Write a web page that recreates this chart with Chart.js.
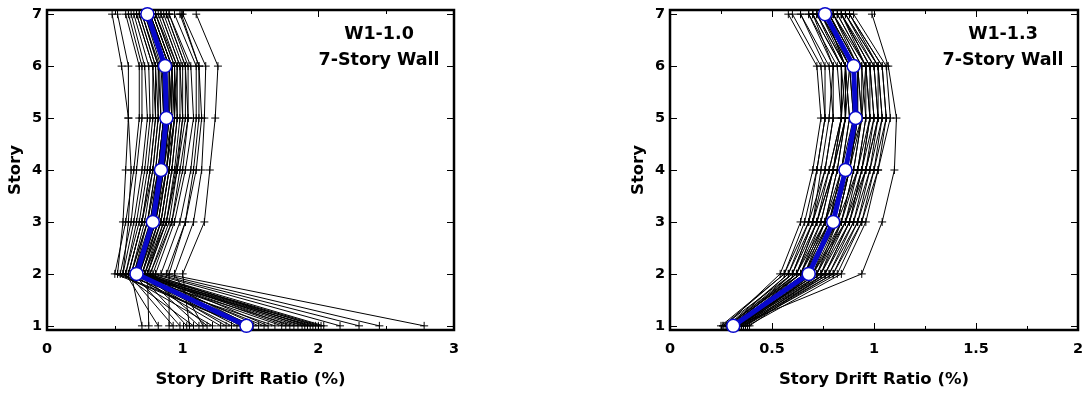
<!DOCTYPE html>
<html>
<head>
<meta charset="utf-8">
<script src="https://cdn.jsdelivr.net/npm/chart.js@4.4.1/dist/chart.umd.min.js"></script>
<style>
    html, body { margin: 0; padding: 0; background: #fff; }
    body { width: 1086px; height: 396px; position: relative; overflow: hidden; }
    .panel { position: absolute; top: 0; height: 396px; }
    #panelA { left: 0; width: 462px; }
    #panelB { left: 620px; width: 466px; }
</style>
</head>
<body>
<div class="panel" id="panelA"><canvas id="chartA"></canvas></div>
<div class="panel" id="panelB"><canvas id="chartB"></canvas></div>
<script>
// Story levels and axis ticks
const stories = [1, 2, 3, 4, 5, 6, 7];
const storyTicks = [1, 2, 3, 4, 5, 6, 7];
const w10Ticks = [0, 1, 2, 3];
const w10Minor = [0.5, 1.5, 2.5];
const w13Ticks = [0, 0.5, 1, 1.5, 2];
const w13Minor = [0.25, 0.75, 1.25, 1.75];

// Median story drift ratio (%), story 1..7
const w10Median = [1.47, 0.66, 0.78, 0.84, 0.88, 0.87, 0.74];
const w13Median = [0.31, 0.68, 0.80, 0.86, 0.91, 0.90, 0.76];

// Drift ratio per ground motion record, story 1..7 (W1-1.0)
const w10Records = [
    [0.70, 0.62, 0.74, 0.80, 0.84, 0.83, 0.70],
    [0.82, 0.58, 0.66, 0.72, 0.76, 0.75, 0.64],
    [0.93, 0.60, 0.70, 0.76, 0.80, 0.80, 0.68],
    [0.98, 0.64, 0.78, 0.86, 0.90, 0.90, 0.76],
    [1.03, 0.68, 0.80, 0.86, 0.92, 0.92, 0.78],
    [1.08, 0.56, 0.64, 0.70, 0.74, 0.72, 0.62],
    [1.12, 0.70, 0.84, 0.90, 0.94, 0.96, 0.80],
    [1.18, 0.72, 0.88, 0.95, 1.00, 0.98, 0.84],
    [1.28, 0.62, 0.72, 0.78, 0.82, 0.82, 0.70],
    [1.32, 0.66, 0.76, 0.82, 0.86, 0.86, 0.72],
    [1.36, 0.60, 0.70, 0.76, 0.80, 0.78, 0.66],
    [1.40, 0.64, 0.76, 0.82, 0.86, 0.85, 0.74],
    [1.43, 0.68, 0.82, 0.88, 0.92, 0.90, 0.76],
    [1.46, 0.52, 0.56, 0.58, 0.60, 0.60, 0.52],
    [1.52, 0.66, 0.80, 0.88, 0.92, 0.92, 0.78],
    [1.56, 0.70, 0.84, 0.90, 0.94, 0.94, 0.80],
    [1.60, 0.64, 0.74, 0.80, 0.84, 0.82, 0.70],
    [1.63, 0.74, 0.88, 0.94, 0.98, 0.98, 0.84],
    [1.73, 0.62, 0.74, 0.82, 0.86, 0.84, 0.72],
    [1.76, 0.68, 0.80, 0.86, 0.90, 0.88, 0.76],
    [1.79, 0.72, 0.86, 0.92, 0.96, 0.94, 0.80],
    [1.82, 0.58, 0.68, 0.74, 0.78, 0.78, 0.66],
    [1.85, 0.66, 0.80, 0.86, 0.90, 0.90, 0.76],
    [1.88, 0.70, 0.82, 0.88, 0.94, 0.92, 0.78],
    [1.90, 0.64, 0.78, 0.84, 0.88, 0.86, 0.74],
    [1.92, 0.76, 0.90, 0.96, 1.00, 1.00, 0.86],
    [1.94, 0.68, 0.80, 0.84, 0.88, 0.88, 0.74],
    [1.96, 0.60, 0.70, 0.78, 0.82, 0.80, 0.68],
    [1.98, 0.72, 0.84, 0.90, 0.94, 0.92, 0.78],
    [2.00, 0.66, 0.78, 0.82, 0.86, 0.86, 0.72],
    [2.02, 0.70, 0.82, 0.88, 0.92, 0.90, 0.76],
    [2.04, 0.74, 0.86, 0.92, 0.96, 0.96, 0.82],
    [2.16, 0.78, 0.92, 1.00, 1.04, 1.02, 0.88],
    [2.30, 0.80, 0.94, 1.02, 1.08, 1.06, 0.90],
    [2.45, 0.84, 0.98, 1.06, 1.10, 1.10, 0.94],
    [2.78, 0.88, 1.02, 1.10, 1.14, 1.12, 0.98],
    [1.05, 1.00, 1.16, 1.20, 1.24, 1.26, 1.10],
    [1.15, 0.94, 1.08, 1.14, 1.16, 1.17, 1.00],
    [0.90, 0.90, 1.02, 1.08, 1.12, 1.12, 0.99],
    [1.22, 0.56, 0.60, 0.62, 0.60, 0.55, 0.48],
    [1.68, 0.54, 0.62, 0.66, 0.70, 0.70, 0.60],
    [1.45, 0.50, 0.58, 0.64, 0.68, 0.68, 0.58],
    [0.75, 0.74, 0.88, 0.96, 1.02, 1.02, 0.88],
    [1.50, 0.76, 0.92, 0.98, 1.04, 1.04, 0.90]
];

// Drift ratio per ground motion record, story 1..7 (W1-1.3)
const w13Records = [
    [0.25, 0.56, 0.66, 0.72, 0.76, 0.74, 0.60],
    [0.26, 0.60, 0.70, 0.76, 0.80, 0.78, 0.64],
    [0.27, 0.54, 0.64, 0.70, 0.74, 0.72, 0.58],
    [0.28, 0.62, 0.74, 0.80, 0.84, 0.82, 0.68],
    [0.28, 0.58, 0.68, 0.72, 0.76, 0.76, 0.64],
    [0.29, 0.64, 0.76, 0.82, 0.86, 0.86, 0.72],
    [0.29, 0.60, 0.72, 0.78, 0.84, 0.84, 0.72],
    [0.30, 0.66, 0.78, 0.84, 0.88, 0.86, 0.74],
    [0.30, 0.62, 0.72, 0.80, 0.86, 0.88, 0.76],
    [0.30, 0.68, 0.80, 0.86, 0.90, 0.88, 0.74],
    [0.31, 0.64, 0.76, 0.84, 0.90, 0.90, 0.78],
    [0.31, 0.70, 0.82, 0.88, 0.92, 0.90, 0.76],
    [0.31, 0.66, 0.80, 0.88, 0.94, 0.94, 0.80],
    [0.31, 0.68, 0.78, 0.84, 0.88, 0.86, 0.72],
    [0.32, 0.72, 0.84, 0.90, 0.94, 0.92, 0.78],
    [0.32, 0.66, 0.76, 0.82, 0.86, 0.84, 0.70],
    [0.32, 0.70, 0.84, 0.92, 0.96, 0.96, 0.82],
    [0.32, 0.74, 0.86, 0.92, 0.96, 0.94, 0.80],
    [0.33, 0.68, 0.82, 0.88, 0.92, 0.92, 0.78],
    [0.33, 0.72, 0.86, 0.94, 1.00, 0.98, 0.84],
    [0.33, 0.64, 0.74, 0.80, 0.84, 0.84, 0.70],
    [0.33, 0.76, 0.88, 0.94, 0.98, 0.96, 0.82],
    [0.34, 0.70, 0.80, 0.86, 0.90, 0.90, 0.76],
    [0.34, 0.74, 0.88, 0.96, 1.02, 1.00, 0.86],
    [0.34, 0.78, 0.90, 0.96, 1.00, 0.98, 0.84],
    [0.34, 0.72, 0.82, 0.88, 0.92, 0.90, 0.74],
    [0.35, 0.76, 0.90, 0.98, 1.04, 1.02, 0.86],
    [0.35, 0.80, 0.92, 0.98, 1.02, 1.00, 0.84],
    [0.35, 0.66, 0.78, 0.86, 0.92, 0.92, 0.80],
    [0.36, 0.78, 0.92, 1.00, 1.06, 1.04, 0.88],
    [0.36, 0.82, 0.94, 1.00, 1.04, 1.02, 0.86],
    [0.37, 0.74, 0.84, 0.90, 0.94, 0.92, 0.78],
    [0.37, 0.80, 0.94, 1.02, 1.08, 1.06, 0.90],
    [0.38, 0.84, 0.96, 1.02, 1.06, 1.04, 0.88],
    [0.39, 0.76, 0.88, 0.94, 0.98, 0.96, 0.80],
    [0.32, 0.94, 1.04, 1.10, 1.11, 1.07, 0.99],
    [0.29, 0.58, 0.70, 0.78, 0.84, 0.86, 0.76],
    [0.30, 0.62, 0.76, 0.86, 0.94, 0.96, 0.84],
    [0.31, 0.60, 0.70, 0.74, 0.78, 0.80, 0.70],
    [0.33, 0.66, 0.82, 0.92, 0.98, 0.98, 0.84],
    [0.34, 0.62, 0.72, 0.80, 0.86, 0.86, 0.76],
    [0.26, 0.56, 0.68, 0.76, 0.80, 0.80, 0.68],
    [0.36, 0.70, 0.86, 0.96, 1.02, 1.02, 0.88],
    [0.28, 0.64, 0.78, 0.86, 0.90, 0.88, 0.74]
];

Chart.defaults.font.family = "'DejaVu Sans', sans-serif";
Chart.defaults.font.weight = 'bold';
Chart.defaults.color = '#000';

// Frame, inward tick marks and the wall label
const framePlugin = {
    id: 'frame',
    beforeDatasetsDraw(chart, args, opts) {
        const { ctx, chartArea: a, scales: { x, y } } = chart;
        ctx.save();
        ctx.strokeStyle = '#000';
        ctx.lineWidth = 1;
        ctx.beginPath();
        const xMark = (vals, len) => vals.forEach(v => {
            const px = Math.round(x.getPixelForValue(v)) + 0.5;
            ctx.moveTo(px, a.bottom); ctx.lineTo(px, a.bottom - len);
            ctx.moveTo(px, a.top); ctx.lineTo(px, a.top + len);
        });
        xMark(opts.major, 7);
        xMark(opts.minor, 4);
        storyTicks.forEach(v => {
            const py = Math.round(y.getPixelForValue(v)) + 0.5;
            ctx.moveTo(a.left, py); ctx.lineTo(a.left + 7, py);
            ctx.moveTo(a.right, py); ctx.lineTo(a.right - 7, py);
        });
        ctx.stroke();
        ctx.lineWidth = 2.5;
        ctx.strokeRect(a.left, a.top, a.right - a.left, a.bottom - a.top);

        ctx.fillStyle = '#000';
        ctx.font = "bold 17.5px 'DejaVu Sans', sans-serif";
        ctx.textAlign = 'center';
        ctx.textBaseline = 'middle';
        ctx.fillText(opts.note[0], a.right - 75, a.top + 24);
        ctx.fillText(opts.note[1], a.right - 75, a.top + 50);
        ctx.restore();
    }
};

function buildChart(canvasId, records, median, xMax, xTicks, xMinor, note, axisWidth, titlePad) {
    const datasets = [{
        data: stories.map((s, i) => ({ x: median[i], y: s })),
        borderColor: '#0808cc',
        borderWidth: 5,
        pointStyle: 'circle',
        pointRadius: 6.5,
        pointBackgroundColor: '#fff',
        pointBorderColor: '#0808cc',
        pointBorderWidth: 1.5,
        showLine: true,
        clip: false,
        order: 0
    }];
    records.forEach(r => {
        datasets.push({
            data: stories.map((s, i) => ({ x: r[i], y: s })),
            borderColor: '#000',
            borderWidth: 1,
            pointStyle: 'cross',
            pointRadius: 4,
            pointBorderColor: '#000',
            pointBorderWidth: 1,
            showLine: true,
            clip: false,
            order: 1
        });
    });

    return new Chart(document.getElementById(canvasId), {
        type: 'scatter',
        data: { datasets },
        options: {
            responsive: true,
            maintainAspectRatio: false,
            animation: false,
            layout: { padding: { top: 10, right: 6, bottom: 0, left: 0 } },
            plugins: {
                legend: { display: false },
                tooltip: { enabled: false },
                frame: { major: xTicks, minor: xMinor, note: note }
            },
            scales: {
                x: {
                    type: 'linear',
                    min: 0,
                    max: xMax,
                    grid: { display: false, drawTicks: false },
                    border: { display: false },
                    afterBuildTicks: scale => { scale.ticks = xTicks.map(v => ({ value: v })); },
                    afterFit: scale => {
                        scale.height = 66;
                        scale.paddingLeft = 0;
                        scale.paddingRight = 0;
                    },
                    ticks: {
                        font: { size: 14.5, weight: 'bold' },
                        padding: 11,
                        autoSkip: false,
                        maxRotation: 0,
                        callback: v => String(v)
                    },
                    title: {
                        display: true,
                        text: 'Story Drift Ratio (%)',
                        font: { size: 16.5, weight: 'bold' },
                        padding: { top: 0, bottom: 6 }
                    }
                },
                y: {
                    type: 'linear',
                    min: 0.92,
                    max: 7.08,
                    grid: { display: false, drawTicks: false },
                    border: { display: false },
                    afterBuildTicks: scale => { scale.ticks = storyTicks.map(v => ({ value: v })); },
                    afterFit: scale => {
                        scale.width = axisWidth;
                        scale.paddingTop = 0;
                        scale.paddingBottom = 0;
                    },
                    ticks: { font: { size: 14.5, weight: 'bold' }, padding: 5, autoSkip: false },
                    title: {
                        display: true,
                        text: 'Story',
                        font: { size: 16.5, weight: 'bold' },
                        padding: { top: titlePad, bottom: 0 }
                    }
                }
            }
        },
        plugins: [framePlugin]
    });
}

buildChart('chartA', w10Records, w10Median, 3, w10Ticks, w10Minor, ['W1-1.0', '7-Story Wall'], 47, 6);
buildChart('chartB', w13Records, w13Median, 2, w13Ticks, w13Minor, ['W1-1.3', '7-Story Wall'], 50, 9);
</script>
</body>
</html>
